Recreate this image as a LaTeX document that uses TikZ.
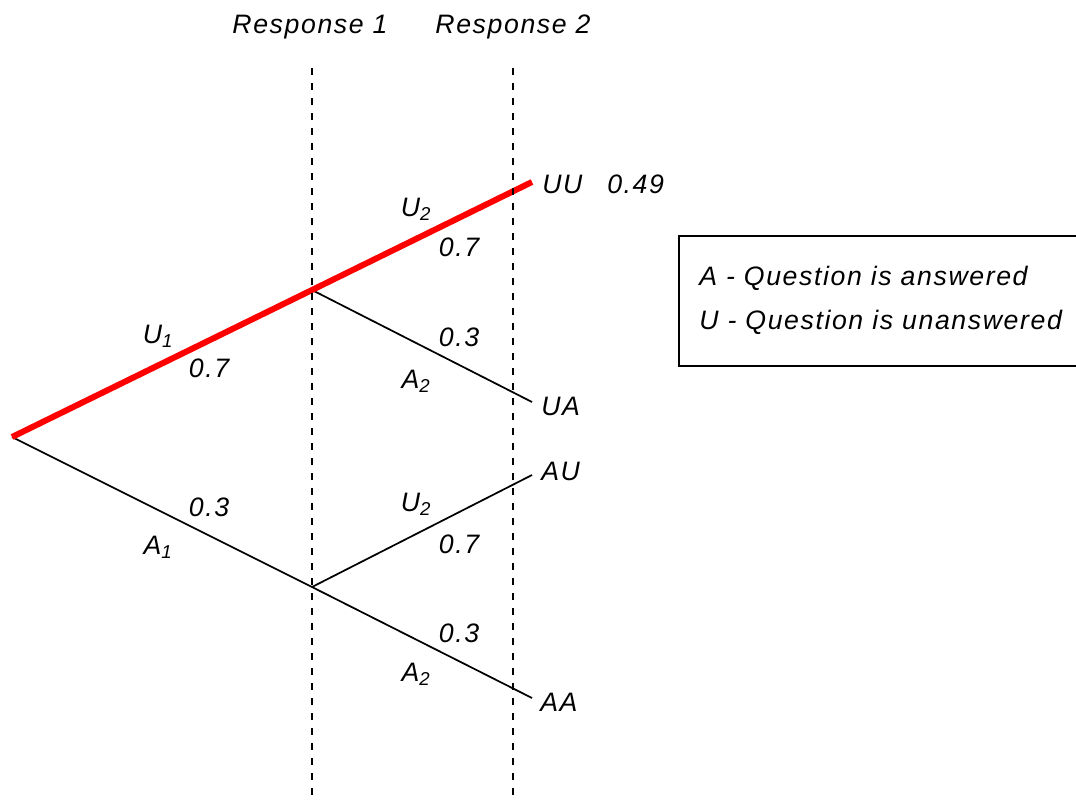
\documentclass[tikz,border=0pt]{standalone}
\usepackage{fontspec}
\setmainfont{Liberation Sans}[LetterSpace=6]
\usetikzlibrary{positioning}

\begin{document}
\begin{tikzpicture}[x=0.75pt,y=-0.75pt,
  every node/.style={inner sep=0pt,font=\fontsize{20pt}{24pt}\selectfont\itshape},
  branch/.style={line width=1.3pt},
  chosen/.style={line width=4.5pt,red},
  guide/.style={line width=0.8pt,dash pattern=on 5.25pt off 6pt}]
  \useasboundingbox (0,0) rectangle (1076,801);

  % branch points and leaf ends
  \coordinate (root) at (12,437);
  \coordinate (u1) at (312,290);
  \coordinate (a1) at (312,587);
  \coordinate (uuend) at (532,182);
  \coordinate (uaend) at (532,402);
  \coordinate (auend) at (532,475);
  \coordinate (aaend) at (532,698);

  % tree
  \draw[branch] (root) -- (a1);
  \draw[branch] (u1) -- (uaend);
  \draw[branch] (a1) -- (auend);
  \draw[branch] (a1) -- (aaend);
  \draw[chosen] (root) -- (u1) -- (uuend);

  % response columns
  \node (resp1) at (310,27) {Response 1};
  \node (resp2) at (513,27) {Response 2};
  \coordinate (g1top) at (312,68);
  \coordinate (g1bot) at (312,801);
  \coordinate (g2top) at (513,68);
  \coordinate (g2bot) at (513,801);
  \draw[guide] (g1top) -- (g1bot);
  \draw[guide] (g2top) -- (g2bot);

  % outcomes
  \node (uu) [anchor=west] at (542,184) {UU};
  \node (puu) [anchor=west] at (607,184) {0.49};
  \node (ua) [anchor=west] at (541,406) {UA};
  \node (au) [anchor=west] at (541,471) {AU};
  \node (aa) [anchor=west] at (540,702) {AA};

  % branch labels
  \node (lu1) at (158,336) {U\textsubscript{1}};
  \node (pu1) at (209,368) {0.7};
  \node (pa1) at (209,507) {0.3};
  \node (la1) at (158,547) {A\textsubscript{1}};
  \node (lu2a) at (416,209) {U\textsubscript{2}};
  \node (pu2a) at (459,247) {0.7};
  \node (pa2a) at (459,337) {0.3};
  \node (la2a) at (416,381) {A\textsubscript{2}};
  \node (lu2b) at (416,504) {U\textsubscript{2}};
  \node (pu2b) at (459,544) {0.7};
  \node (pa2b) at (459,633) {0.3};
  \node (la2b) at (416,674) {A\textsubscript{2}};

  % key
  \draw[line width=0.9pt] (679,236) rectangle (1095,366);
  \node (keya) [anchor=base west] at (699,285) {A - Question is answered};
  \node (keyu) [anchor=base west] at (699,329) {U - Question is unanswered};
\end{tikzpicture}
\end{document}
